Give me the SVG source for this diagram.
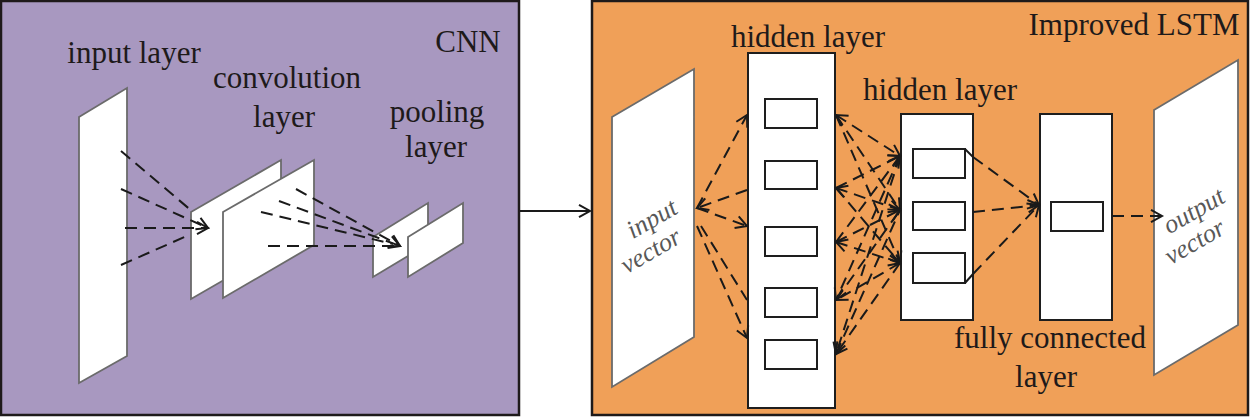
<svg xmlns="http://www.w3.org/2000/svg" width="1252" height="417" viewBox="0 0 1252 417">
<defs>
<marker id="ah" markerUnits="userSpaceOnUse" markerWidth="16" markerHeight="16" refX="12" refY="7" orient="auto-start-reverse" viewBox="0 0 16 14">
<path d="M1,0.8 L12,7 L1,13.2" fill="none" stroke="#1a1a1a" stroke-width="2"/>
</marker>
</defs>
<style>
.lbl{font-family:"Liberation Serif","Times New Roman",serif;font-size:31px;fill:#1e1a1a;text-anchor:middle}
.vec{font-family:"Liberation Serif","Times New Roman",serif;font-size:26px;font-style:italic;fill:#585858;text-anchor:middle}
.plate{fill:#fff;stroke:#6b6b6b;stroke-width:1.8}
.box{fill:#fff;stroke:#1e1e1e;stroke-width:2}
.dash{fill:none;stroke:#1a1a1a;stroke-width:2;stroke-dasharray:12 7}
.solid{fill:none;stroke:#1a1a1a;stroke-width:2}
.arr{marker-end:url(#ah)}
.arr2{marker-start:url(#ah);marker-end:url(#ah)}
</style>

<g id="cnn-panel">
<rect x="1" y="1" width="518" height="414" fill="#A898C0" stroke="#1e1a1a" stroke-width="2.5"/>
<text class="lbl" x="468" y="52">CNN</text>
</g>

<g id="input-layer">
<polygon class="plate" points="79,117 127,88 127,356 79,383"/>
<text class="lbl" x="134" y="63">input layer</text>
</g>

<g id="convolution-layer">
<polygon class="plate" points="191,212 281,160 281,247 191,299"/>
<polygon class="plate" points="223,212 314,160 314,245 223,298"/>
<text class="lbl" x="287" y="88">convolution</text>
<text class="lbl" x="284" y="127">layer</text>
</g>

<g id="pooling-layer">
<polygon class="plate" points="373,237 428,203 428,244 373,277"/>
<polygon class="plate" points="408,237 463,203 463,243 408,277"/>
<text class="lbl" x="437" y="122">pooling</text>
<text class="lbl" x="436" y="157">layer</text>
</g>

<g id="lstm-panel">
<rect x="592" y="1" width="656" height="414" fill="#F0A058" stroke="#1e1a1a" stroke-width="2.5"/>
<text class="lbl" x="1134" y="35">Improved LSTM</text>
</g>

<g id="input-vector">
<polygon class="plate" points="612,117 694,69 694,337 612,387"/>
<text class="vec" transform="translate(656,226) rotate(-30)">input</text>
<text class="vec" transform="translate(655,258) rotate(-30)">vector</text>
</g>

<g id="hidden-layer-1">
<rect class="box" x="748" y="53" width="87" height="355"/>
<rect class="box" x="765" y="99" width="52" height="29"/>
<rect class="box" x="765" y="161" width="52" height="28"/>
<rect class="box" x="765" y="227" width="52" height="29"/>
<rect class="box" x="765" y="288" width="52" height="29"/>
<rect class="box" x="765" y="340" width="52" height="29"/>
<text class="lbl" x="808" y="47">hidden layer</text>
</g>

<g id="hidden-layer-2">
<rect class="box" x="901" y="114" width="72" height="206"/>
<rect class="box" x="913" y="149" width="52" height="29"/>
<rect class="box" x="913" y="202" width="52" height="28"/>
<rect class="box" x="913" y="253" width="52" height="30"/>
<text class="lbl" x="940" y="100">hidden layer</text>
</g>

<g id="fully-connected-layer">
<rect class="box" x="1040" y="114" width="72" height="206"/>
<rect class="box" x="1051" y="202" width="52" height="29"/>
<text class="lbl" x="1050" y="348">fully connected</text>
<text class="lbl" x="1046" y="387">layer</text>
</g>

<g id="output-vector">
<polygon class="plate" points="1154,110 1238,60 1238,325 1154,375"/>
<text class="vec" transform="translate(1198,218) rotate(-30)">output</text>
<text class="vec" transform="translate(1199,249) rotate(-30)">vector</text>
</g>

<g id="connectors">
<line class="solid arr" x1="520" y1="211" x2="590" y2="211"/>
<!-- CNN input -> conv -->
<line class="dash" x1="121" y1="151" x2="193" y2="212"/>
<line class="dash arr" x1="121" y1="189" x2="208" y2="228"/>
<line class="dash arr" x1="125" y1="228" x2="208" y2="228"/>
<line class="dash" x1="121" y1="265" x2="189" y2="235"/>
<!-- conv -> pool -->
<line class="dash arr" x1="296" y1="189" x2="400" y2="246"/>
<line class="dash arr" x1="279" y1="201" x2="400" y2="246"/>
<line class="dash" x1="261" y1="212" x2="393" y2="244"/>
<line class="dash" x1="268" y1="246" x2="398" y2="246"/>
<!-- input vector -> hidden 1 -->
<line class="dash arr" x1="697" y1="208" x2="747" y2="115"/>
<line class="dash arr" x1="747" y1="190" x2="697" y2="208"/>
<line class="dash arr" x1="697" y1="208" x2="747" y2="226"/>
<line class="dash" x1="701" y1="226" x2="747" y2="300"/>
<line class="dash arr" x1="697" y1="226" x2="747" y2="338"/>
<!-- hidden 1 <-> hidden 2 -->
<line class="dash arr2" x1="836" y1="115" x2="900" y2="156"/>
<line class="dash arr" x1="836" y1="115" x2="900" y2="210"/>
<line class="dash arr" x1="836" y1="115" x2="900" y2="263"/>
<line class="dash arr" x1="836" y1="188" x2="900" y2="156"/>
<line class="dash arr2" x1="836" y1="188" x2="900" y2="210"/>
<line class="dash arr" x1="836" y1="188" x2="900" y2="263"/>
<line class="dash arr" x1="836" y1="242" x2="900" y2="156"/>
<line class="dash arr" x1="836" y1="242" x2="900" y2="210"/>
<line class="dash arr2" x1="836" y1="242" x2="900" y2="263"/>
<line class="dash arr" x1="900" y1="156" x2="836" y2="300"/>
<line class="dash" x1="836" y1="300" x2="900" y2="210"/>
<line class="dash arr" x1="900" y1="263" x2="836" y2="300"/>
<line class="dash arr" x1="900" y1="156" x2="836" y2="354"/>
<line class="dash" x1="836" y1="354" x2="900" y2="210"/>
<line class="dash arr" x1="900" y1="263" x2="836" y2="354"/>
<!-- hidden 2 -> fully connected -->
<line class="solid" x1="965" y1="149" x2="973" y2="157"/>
<line class="solid" x1="965" y1="283" x2="973" y2="274"/>
<line class="dash arr" x1="973" y1="157" x2="1039" y2="205"/>
<line class="dash arr" x1="973" y1="212" x2="1039" y2="205"/>
<line class="dash arr" x1="973" y1="274" x2="1039" y2="205"/>
<!-- fully connected -> output -->
<line class="dash arr" x1="1112" y1="216" x2="1162" y2="216"/>
</g>
</svg>
